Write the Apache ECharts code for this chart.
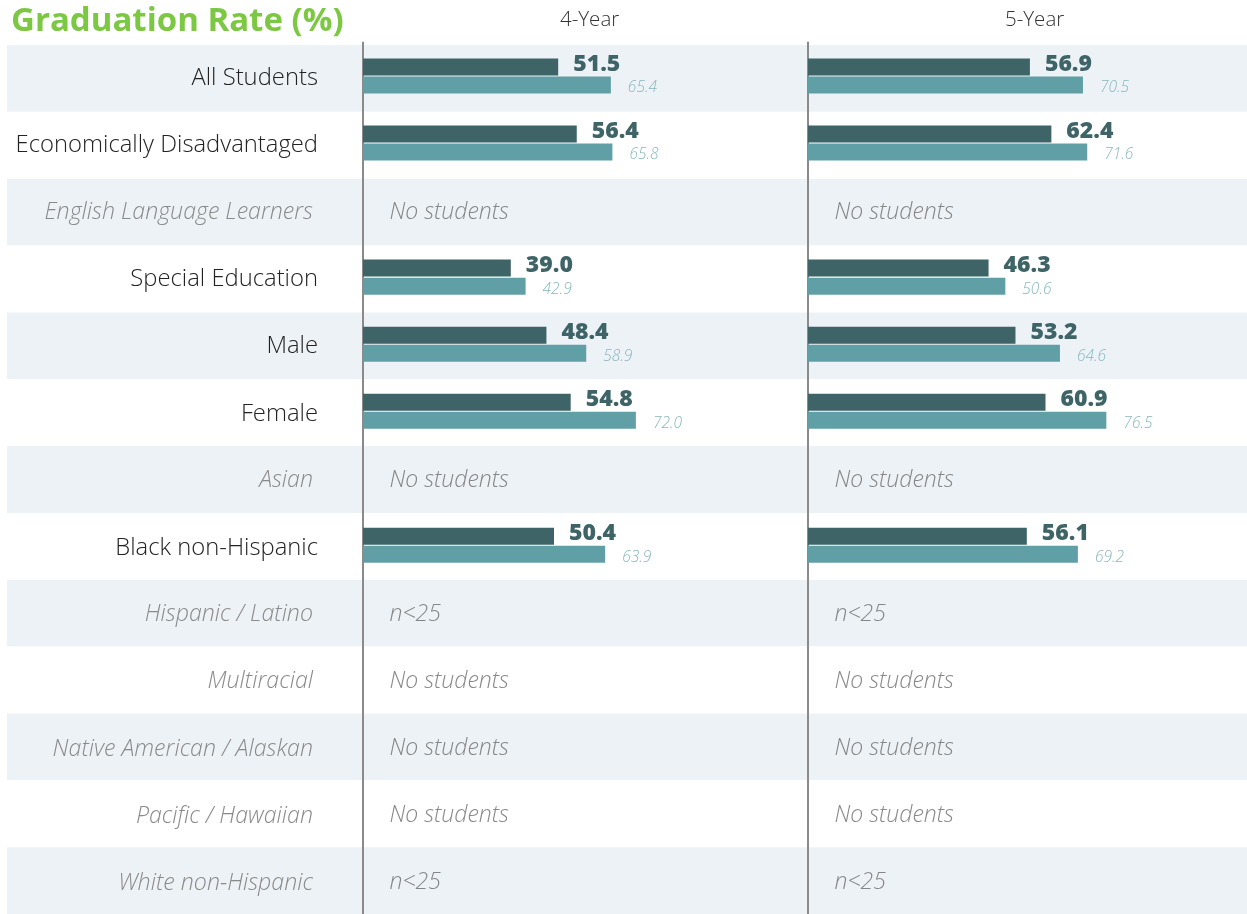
<!DOCTYPE html>
<html>
<head>
<meta charset="utf-8">
<script src="https://cdn.jsdelivr.net/npm/echarts@6/dist/echarts.min.js"></script>
<style>
  html, body { margin: 0; padding: 0; background: #fff; }
  #chart { width: 1247px; height: 914px; }
</style>
</head>
<body>
<div id="chart"></div>
<script>
// 分组
const categories = [
  'All Students', 'Economically Disadvantaged', 'English Language Learners',
  'Special Education', 'Male', 'Female', 'Asian', 'Black non-Hispanic',
  'Hispanic / Latino', 'Multiracial', 'Native American / Alaskan',
  'Pacific / Hawaiian', 'White non-Hispanic'
];
// 4年毕业率 (学校 / 对比)
const fourYear = [51.5, 56.4, null, 39.0, 48.4, 54.8, null, 50.4, null, null, null, null, null];
const fourYearCompare = [65.4, 65.8, null, 42.9, 58.9, 72.0, null, 63.9, null, null, null, null, null];
// 5年毕业率
const fiveYear = [56.9, 62.4, null, 46.3, 53.2, 60.9, null, 56.1, null, null, null, null, null];
const fiveYearCompare = [70.5, 71.6, null, 50.6, 64.6, 76.5, null, 69.2, null, null, null, null, null];
// 无数据时的说明
const notes = ['', '', 'No students', '', '', '', 'No students', '', 'n<25',
  'No students', 'No students', 'No students', 'n<25'];
const headers = ['4-Year', '5-Year'];

const FONT = 'Open Sans';
const DARK = '#3e6467';
const LIGHT = '#609fa6';

const chart = echarts.init(document.getElementById('chart'));

function noteData() {
  const out = [];
  notes.forEach((n, i) => {
    if (n) out.push({ value: [0, categories[i]], note: n });
  });
  return out;
}

function barSeries(idx, main, compare) {
  return [{
    type: 'bar',
    xAxisIndex: idx,
    yAxisIndex: idx,
    barWidth: 17,
    barGap: '6%',
    itemStyle: { color: DARK },
    label: {
      show: true,
      position: 'right',
      distance: 15,
      offset: [0, -3],
      fontFamily: FONT,
      fontWeight: 800,
      fontSize: 23,
      color: DARK,
      formatter: p => p.value.toFixed(1)
    },
    data: main
  }, {
    type: 'bar',
    xAxisIndex: idx,
    yAxisIndex: idx,
    barWidth: 17,
    itemStyle: { color: LIGHT },
    label: {
      show: true,
      position: 'right',
      distance: 17,
      offset: [0, 3],
      fontFamily: FONT,
      fontStyle: 'italic',
      fontWeight: 300,
      fontSize: 15.5,
      color: '#86b7be',
      formatter: p => p.value.toFixed(1)
    },
    data: compare
  }, {
    // 无数据说明
    type: 'scatter',
    xAxisIndex: idx,
    yAxisIndex: idx,
    symbolSize: 1,
    itemStyle: { color: 'rgba(0,0,0,0)' },
    label: {
      show: true,
      position: 'right',
      distance: 26,
      offset: [0, 2],
      fontFamily: FONT,
      fontStyle: 'italic',
      fontWeight: 300,
      fontSize: 23,
      color: '#6a6a6a',
      formatter: p => p.data.note
    },
    data: noteData()
  }];
}

const barTop = 42.5;
const bandHeight = 872;

chart.setOption({
  animation: false,
  title: [{
    text: 'Graduation Rate (%)',
    left: 6,
    top: 0,
    textStyle: { fontFamily: FONT, fontWeight: 'bold', fontSize: 33, color: '#7dc843' }
  }, {
    text: headers[0],
    left: 555,
    top: 5,
    textStyle: { fontFamily: FONT, fontWeight: 300, fontSize: 20.5, color: '#333' }
  }, {
    text: headers[1],
    left: 1000,
    top: 5,
    textStyle: { fontFamily: FONT, fontWeight: 300, fontSize: 20.5, color: '#333' }
  }],
  grid: [
    { left: 363, width: 379, top: barTop, height: bandHeight },
    { left: 808, width: 390, top: barTop, height: bandHeight },
    // 背景条纹
    { left: 7, right: 0, top: 45, height: bandHeight }
  ],
  xAxis: [
    { gridIndex: 0, type: 'value', min: 0, max: 100, show: false },
    { gridIndex: 1, type: 'value', min: 0, max: 100, show: false },
    { gridIndex: 2, type: 'value', min: 0, max: 100, show: false }
  ],
  yAxis: [{
    gridIndex: 0,
    type: 'category',
    inverse: true,
    data: categories,
    axisLine: { show: true, lineStyle: { color: '#8a8a8a', width: 2 } },
    axisTick: { show: false },
    axisLabel: {
      margin: 45,
      formatter: (v, i) => notes[i] ? '{n|' + v + '}' : '{m|' + v + '}',
      rich: {
        m: { fontFamily: FONT, fontWeight: 300, fontSize: 23.8, color: '#222', padding: [5, 0, 0, 0] },
        n: { fontFamily: FONT, fontWeight: 300, fontStyle: 'italic', fontSize: 23.2, color: '#8a8a8a', padding: [5, 5, 0, 0] }
      }
    }
  }, {
    gridIndex: 1,
    type: 'category',
    inverse: true,
    data: categories,
    axisLine: { show: true, lineStyle: { color: '#8a8a8a', width: 2 } },
    axisTick: { show: false },
    axisLabel: { show: false }
  }, {
    gridIndex: 2,
    type: 'category',
    inverse: true,
    data: categories,
    z: -1,
    axisLine: { show: false },
    axisTick: { show: false },
    axisLabel: { show: false },
    splitArea: {
      show: true,
      areaStyle: { color: ['#edf2f6', '#ffffff'] }
    }
  }],
  series: [
    ...barSeries(0, fourYear, fourYearCompare),
    ...barSeries(1, fiveYear, fiveYearCompare),
    { type: 'bar', xAxisIndex: 2, yAxisIndex: 2, data: [], silent: true }
  ]
});
</script>
</body>
</html>
